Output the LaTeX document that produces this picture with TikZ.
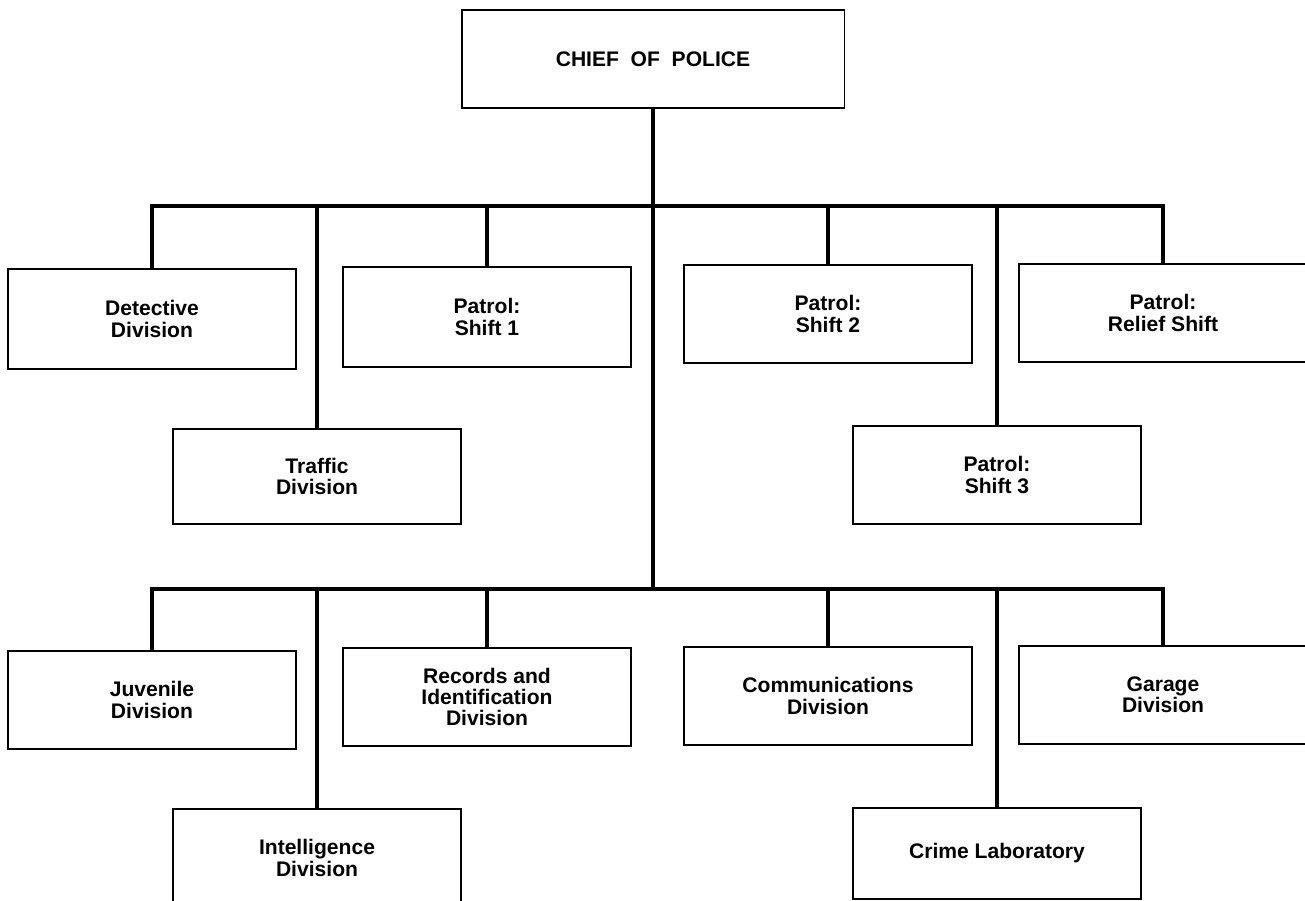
\documentclass[tikz,border=0pt]{standalone}
\usepackage{fontspec}
\setmainfont{Liberation Sans}
\begin{document}
\begin{tikzpicture}[x=0.02cm,y=-0.02cm,
    unit/.style={draw,line width=1.1pt,anchor=north,minimum width=5.76cm,
        minimum height=1.96cm,align=center,inner sep=2pt,
        font=\fontsize{12}{12}\selectfont\bfseries},
    link/.style={line width=1.8pt}]

    \clip (0,0) rectangle (1305,900);

    % Chief
    \node[unit,minimum width=7.66cm] (chief) at (653,9) {CHIEF~~OF~~POLICE};

    % Bar heights
    \coordinate (upbar) at (653,206);
    \coordinate (lowbar) at (653,589);

    % Upper units
    \node[unit,minimum height=2cm] (det) at (152,268) {Detective\\Division};
    \node[unit,minimum height=2cm] (sh1) at (487,266) {Patrol:\\Shift 1};
    \node[unit] (sh2) at (828,264) {Patrol:\\Shift 2};
    \node[unit] (rel) at (1163,263) {Patrol:\\Relief Shift};
    \node[unit,minimum height=1.9cm] (trf) at (317,428) {Traffic\\Division};
    \node[unit] (sh3) at (997,425) {Patrol:\\Shift 3};

    % Lower units
    \node[unit] (juv) at (152,650) {Juvenile\\Division};
    \node[unit] (rec) at (487,647) {Records and\\Identification\\Division};
    \node[unit] (com) at (828,646) {Communications\\Division};
    \node[unit] (gar) at (1163,645) {Garage\\Division};
    \node[unit] (int) at (317,808) {Intelligence\\Division};
    \node[unit,minimum height=1.82cm] (lab) at (997,807) {Crime Laboratory};

    % Lines
    \draw[link] (chief.south) -- (lowbar);
    \draw[link] (det.north) |- (upbar) -| (rel.north);
    \draw[link] (juv.north) |- (lowbar) -| (gar.north);
    \foreach \n in {sh1,sh2,trf,sh3} {
        \draw[link] (\n.north) -- (\n.north |- upbar);
    }
    \foreach \n in {rec,com,int,lab} {
        \draw[link] (\n.north) -- (\n.north |- lowbar);
    }

\end{tikzpicture}
\end{document}
